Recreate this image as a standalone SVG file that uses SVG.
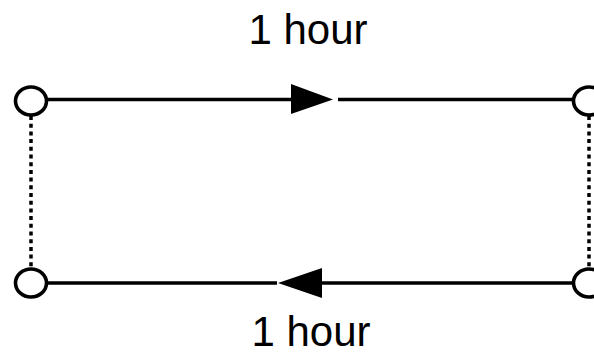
<svg xmlns="http://www.w3.org/2000/svg" width="594" height="355" viewBox="0 0 594 355">
<style>
.node{fill:none;stroke:#000;stroke-width:3.6}
.line{stroke:#000;stroke-width:3.4;fill:none}
.dot{stroke:#000;stroke-width:3.5;stroke-dasharray:4 3.7;fill:none}
.arrow{fill:#000;stroke:none}
.lbl{font-family:"Liberation Sans",Arial,sans-serif;font-size:42px;fill:#000;text-anchor:middle}
</style>
<rect width="594" height="355" fill="#fff"/>
<g id="connectors">
<line class="dot" x1="31" y1="116" x2="31" y2="269"/>
<line class="dot" x1="589" y1="116" x2="589" y2="269"/>
<line class="line" x1="47" y1="99.5" x2="292" y2="99.5"/>
<polygon class="arrow" points="291,84 333,99.5 291,114"/>
<line class="line" x1="338" y1="99.5" x2="573" y2="99.5"/>
<line class="line" x1="47" y1="283" x2="277" y2="283"/>
<polygon class="arrow" points="322,268 278,283 322,298"/>
<line class="line" x1="322" y1="283" x2="573" y2="283"/>
</g>
<g id="n1"><ellipse class="node" cx="31" cy="101" rx="15.5" ry="14"/></g>
<g id="n2"><ellipse class="node" cx="589" cy="101" rx="15.5" ry="14"/></g>
<g id="n3"><ellipse class="node" cx="31" cy="283" rx="15.5" ry="14"/></g>
<g id="n4"><ellipse class="node" cx="589" cy="283" rx="15.5" ry="14"/></g>
<g id="labels">
<text class="lbl" x="308" y="44">1 hour</text>
<text class="lbl" x="311" y="346">1 hour</text>
</g>
</svg>
